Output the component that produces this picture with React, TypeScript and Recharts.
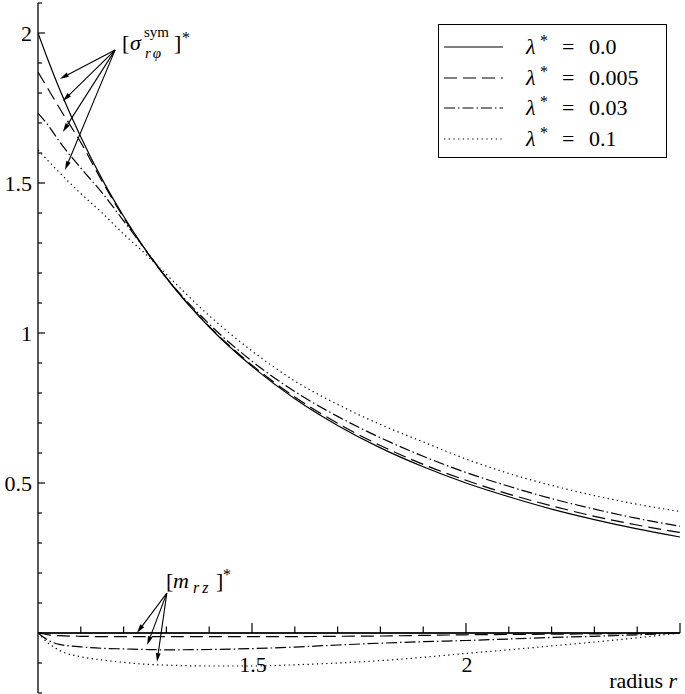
import React from 'react';
import { LineChart, Line, XAxis, YAxis, ReferenceLine, ReferenceDot, Legend } from 'recharts';

// radius grid shared by all curves
const radius = [1, 1.025, 1.05, 1.1, 1.15, 1.2, 1.25, 1.3, 1.4, 1.5, 1.6, 1.7, 1.8, 1.9, 2.0, 2.1, 2.2, 2.3, 2.4, 2.5];

// [sigma_rphi^sym]* for each lambda*
const sigma0 = [2.0, 1.904, 1.814, 1.653, 1.512, 1.389, 1.28, 1.183, 1.02, 0.889, 0.781, 0.692, 0.617, 0.554, 0.5, 0.454, 0.413, 0.378, 0.347, 0.32];
const sigma005 = [1.87, 1.81, 1.75, 1.635, 1.505, 1.385, 1.278, 1.183, 1.022, 0.893, 0.787, 0.699, 0.625, 0.562, 0.509, 0.463, 0.424, 0.389, 0.36, 0.335];
const sigma03 = [1.733, 1.69, 1.638, 1.55, 1.467, 1.374, 1.28, 1.185, 1.03, 0.906, 0.805, 0.722, 0.651, 0.589, 0.535, 0.489, 0.448, 0.413, 0.382, 0.356];
const sigma1 = [1.61, 1.572, 1.535, 1.465, 1.4, 1.33, 1.265, 1.195, 1.058, 0.94, 0.84, 0.762, 0.695, 0.637, 0.58, 0.532, 0.492, 0.458, 0.429, 0.405];

// [m_rz]* for each lambda*
const moment0 = [0, 0, 0, 0, 0, 0, 0, 0, 0, 0, 0, 0, 0, 0, 0, 0, 0, 0, 0, 0];
const moment005 = [0, -0.006, -0.009, -0.011, -0.012, -0.012, -0.012, -0.012, -0.012, -0.012, -0.012, -0.011, -0.01, -0.008, -0.006, -0.005, -0.004, -0.003, -0.002, 0];
const moment03 = [0, -0.025, -0.038, -0.046, -0.051, -0.053, -0.055, -0.056, -0.055, -0.052, -0.047, -0.04, -0.034, -0.029, -0.025, -0.02, -0.015, -0.011, -0.006, 0];
const moment1 = [0, -0.035, -0.058, -0.079, -0.09, -0.098, -0.104, -0.107, -0.11, -0.11, -0.106, -0.1, -0.092, -0.081, -0.068, -0.056, -0.043, -0.03, -0.016, 0];

const lambdas = ['0.0', '0.005', '0.03', '0.1'];
const dashes = [undefined, '13 6', '11 3 1.5 3', '1.3 3.4'];

const xTicks = [1, 1.1, 1.2, 1.3, 1.4, 1.5, 1.6, 1.7, 1.8, 1.9, 2, 2.1, 2.2, 2.3, 2.4, 2.5];
const xMajor = [1.5, 2, 2.5];
const xLabels = [1.5, 2];
const yTicks = [-0.2, -0.1, 0, 0.1, 0.2, 0.3, 0.4, 0.5, 0.6, 0.7, 0.8, 0.9, 1, 1.1, 1.2, 1.3, 1.4, 1.5, 1.6, 1.7, 1.8, 1.9, 2, 2.1];
const yLabels = [0.5, 1, 1.5, 2];

// annotation arrows (data coords)
const sigmaArrowFrom = { x: 1.18, y: 1.943 };
const sigmaArrowTo = [
  { x: 1.051, y: 1.847 },
  { x: 1.058, y: 1.773 },
  { x: 1.058, y: 1.67 },
  { x: 1.063, y: 1.543 },
];
const momentArrowFrom = { x: 1.301, y: 0.133 };
const momentArrowTo = [
  { x: 1.231, y: 0 },
  { x: 1.255, y: -0.04 },
  { x: 1.278, y: -0.097 },
];

const W = 685;
const H = 694;
const M = { top: 3, right: 5, bottom: 0, left: 0 };
const X_AXIS_H = 1;
const Y_MIN = -0.2;
const Y_MAX = 2.1;
const PH = H - M.top - M.bottom - X_AXIS_H;
const FONT = "'Liberation Serif', 'DejaVu Serif', serif";
const FS = 22;

const sigmaKeys = ['s0', 's005', 's03', 's1'];
const momentKeys = ['m0', 'm005', 'm03', 'm1'];

const data = radius.map((r, i) => ({
  r,
  s0: sigma0[i],
  s005: sigma005[i],
  s03: sigma03[i],
  s1: sigma1[i],
  m0: moment0[i],
  m005: moment005[i],
  m03: moment03[i],
  m1: moment1[i],
}));

const YTick = (props: any) => {
  const { x, y, payload } = props;
  const v = payload.value;
  const labeled = yLabels.includes(v);
  return (
    <g>
      <line x1={x} x2={x + (labeled ? 7 : 4)} y1={y} y2={y} stroke="#000" strokeWidth={1.2} />
      {labeled && (
        <text x={x - 6} y={y} textAnchor="end" dominantBaseline="central" fontFamily={FONT} fontSize={FS} fill="#000">
          {String(v)}
        </text>
      )}
    </g>
  );
};

const XTick = (props: any) => {
  const { x, y, payload } = props;
  const v = payload.value;
  // x axis sits at y = 0
  const y0 = y - (PH * (0 - Y_MIN)) / (Y_MAX - Y_MIN);
  const len = xMajor.includes(v) ? 10 : 6.5;
  return (
    <g>
      {v > 1 && <line x1={x} x2={x} y1={y0} y2={y0 - len} stroke="#000" strokeWidth={1.2} />}
      {xLabels.includes(v) && (
        <text x={x + 1} y={y0 + 31} textAnchor="middle" dominantBaseline="central" fontFamily={FONT} fontSize={FS} fill="#000">
          {String(v)}
        </text>
      )}
    </g>
  );
};

const RadiusLabel = (props: any) => {
  const { viewBox } = props;
  return (
    <text x={viewBox.x + viewBox.width - 3} y={viewBox.y - 5} textAnchor="end" fontFamily={FONT} fontSize={FS} fill="#000">
      radius <tspan fontStyle="italic">r</tspan>
    </text>
  );
};

const Arrow = (props: any) => {
  const { x1, y1, x2, y2 } = props;
  const ang = Math.atan2(y2 - y1, x2 - x1);
  const L = 9;
  const hw = 2.4;
  const bx = x2 - L * Math.cos(ang);
  const by = y2 - L * Math.sin(ang);
  const px = -Math.sin(ang) * hw;
  const py = Math.cos(ang) * hw;
  return (
    <g>
      <line x1={x1} y1={y1} x2={bx} y2={by} stroke="#000" strokeWidth={1.1} />
      <polygon points={`${x2},${y2} ${bx + px},${by + py} ${bx - px},${by - py}`} fill="#000" />
    </g>
  );
};

const SigmaLabel = (props: any) => {
  const { cx, cy } = props;
  return (
    <text fontFamily={FONT} fill="#000" fontSize={FS}>
      <tspan x={cx} y={cy}>[</tspan>
      <tspan x={cx + 8} y={cy} fontStyle="italic">σ</tspan>
      <tspan x={cx + 22} y={cy - 13} fontSize={15}>sym</tspan>
      <tspan x={cx + 23} y={cy + 8} fontSize={15} fontStyle="italic" letterSpacing={2}>rφ</tspan>
      <tspan x={cx + 52} y={cy}>]</tspan>
      <tspan x={cx + 60} y={cy - 7} fontSize={16}>*</tspan>
    </text>
  );
};

const MomentLabel = (props: any) => {
  const { cx, cy } = props;
  return (
    <text fontFamily={FONT} fill="#000" fontSize={FS}>
      <tspan x={cx} y={cy}>[</tspan>
      <tspan x={cx + 7} y={cy} fontStyle="italic">m</tspan>
      <tspan x={cx + 27} y={cy + 5} fontSize={16} fontStyle="italic" letterSpacing={3}>rz</tspan>
      <tspan x={cx + 50} y={cy}>]</tspan>
      <tspan x={cx + 57} y={cy - 8} fontSize={16}>*</tspan>
    </text>
  );
};

const LegendBox = (props: any) => {
  const items = (props.payload || []).filter((p: any) => sigmaKeys.includes(p.dataKey));
  return (
    <div
      style={{
        border: '1.5px solid #000',
        width: 229,
        height: 134,
        boxSizing: 'border-box',
        background: '#fff',
        fontFamily: FONT,
        fontSize: FS,
        paddingTop: 7,
        color: '#000',
      }}
    >
      {items.map((p: any) => {
        const i = sigmaKeys.indexOf(p.dataKey);
        return (
          <div key={p.dataKey} style={{ position: 'relative', height: 30.5 }}>
            <svg width={87} height={10} style={{ position: 'absolute', left: 0, top: 10 }}>
              <line x1={5} x2={64} y1={5} y2={5} stroke="#000" strokeWidth={1.2} strokeDasharray={dashes[i]} />
            </svg>
            <span style={{ position: 'absolute', left: 87, top: 2, lineHeight: '26px', fontStyle: 'italic' }}>λ</span>
            <span style={{ position: 'absolute', left: 101, top: -4, lineHeight: '26px', fontSize: 16 }}>*</span>
            <span style={{ position: 'absolute', left: 123, top: 2, lineHeight: '26px' }}>=</span>
            <span style={{ position: 'absolute', left: 150, top: 2, lineHeight: '26px', whiteSpace: 'nowrap' }}>{p.value}</span>
          </div>
        );
      })}
    </div>
  );
};

export default function App() {
  return (
    <div style={{ position: 'absolute', left: 0, top: 0, background: '#fff' }}>
      <LineChart width={W} height={H} data={data} margin={M} style={{ fontFamily: FONT }}>
        <XAxis
          type="number"
          dataKey="r"
          domain={[1, 2.5]}
          ticks={xTicks}
          interval={0}
          height={X_AXIS_H}
          tickSize={0}
          tickMargin={0}
          tickLine={false}
          axisLine={false}
          tick={<XTick />}
          allowDataOverflow
          label={{ content: <RadiusLabel /> }}
        />
        <YAxis
          type="number"
          domain={[Y_MIN, Y_MAX]}
          ticks={yTicks}
          interval={0}
          width={38}
          tickSize={0}
          tickMargin={0}
          tickLine={false}
          axisLine={{ stroke: '#000', strokeWidth: 1.3 }}
          tick={<YTick />}
          allowDataOverflow
        />
        <ReferenceLine y={0} stroke="#000" strokeWidth={1.3} />
        {sigmaKeys.map((k, i) => (
          <Line
            key={k}
            type="monotone"
            dataKey={k}
            name={lambdas[i]}
            stroke="#000"
            strokeWidth={1.2}
            strokeDasharray={dashes[i]}
            dot={false}
            activeDot={false}
            isAnimationActive={false}
          />
        ))}
        {momentKeys.map((k, i) => (
          <Line
            key={k}
            type="monotone"
            dataKey={k}
            legendType="none"
            stroke="#000"
            strokeWidth={1.2}
            strokeDasharray={dashes[i]}
            dot={false}
            activeDot={false}
            isAnimationActive={false}
          />
        ))}
        {sigmaArrowTo.map((p, i) => (
          <ReferenceLine key={'sa' + i} segment={[sigmaArrowFrom, p]} ifOverflow="visible" shape={<Arrow />} />
        ))}
        {momentArrowTo.map((p, i) => (
          <ReferenceLine key={'ma' + i} segment={[momentArrowFrom, p]} ifOverflow="visible" shape={<Arrow />} />
        ))}
        <ReferenceDot x={1.196} y={1.943} ifOverflow="visible" shape={<SigmaLabel />} />
        <ReferenceDot x={1.299} y={0.15} ifOverflow="visible" shape={<MomentLabel />} />
        <Legend
          layout="horizontal"
          align="center"
          verticalAlign="middle"
          width={229}
          wrapperStyle={{ left: 438, top: 24, width: 229 }}
          content={<LegendBox />}
        />
      </LineChart>
    </div>
  );
}
